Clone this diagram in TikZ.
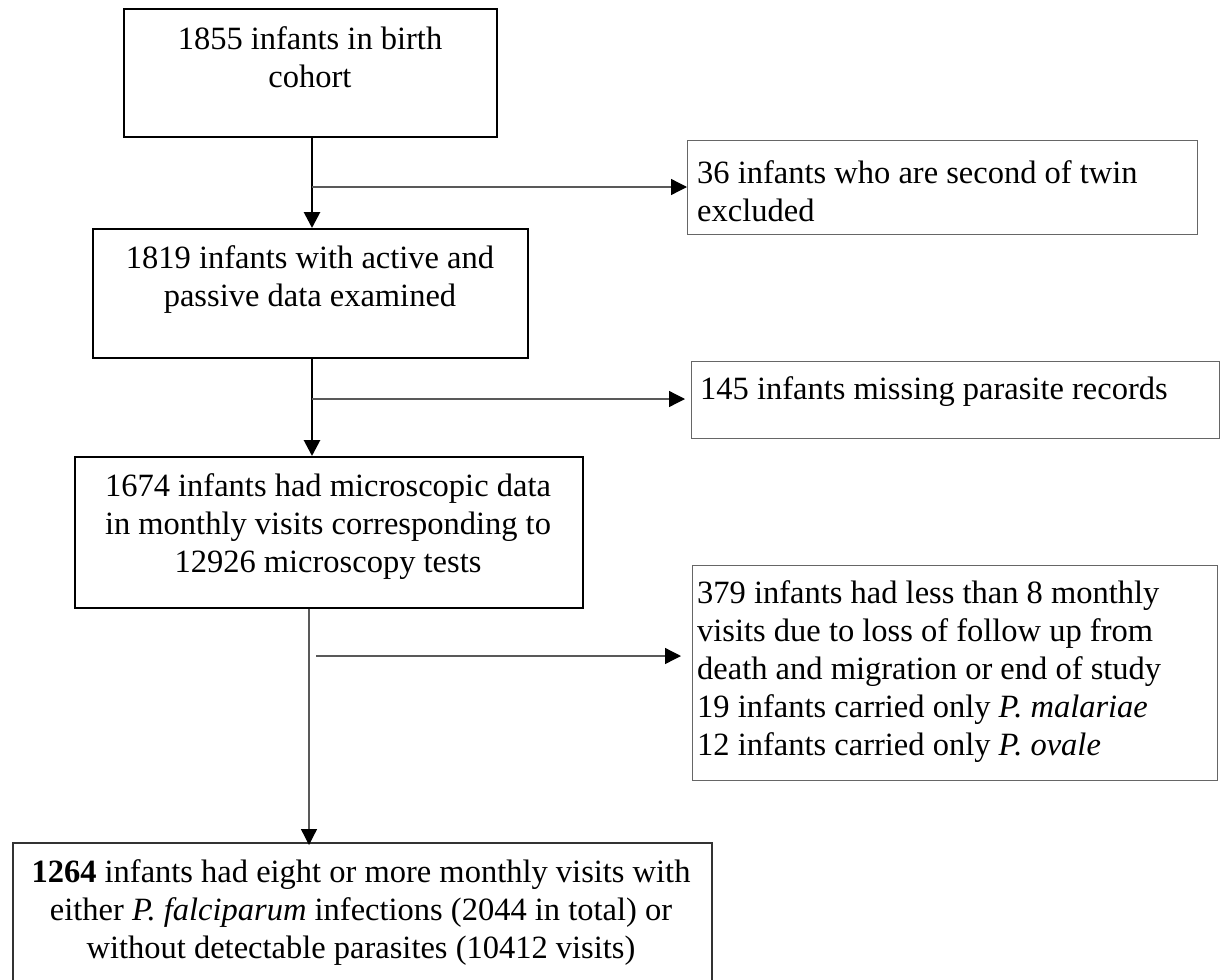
\documentclass[tikz,border=0pt]{standalone}
\usepackage{fontspec}
\setmainfont{Liberation Serif}
\usetikzlibrary{arrows.meta}
\begin{document}
\begin{tikzpicture}[x=1pt,y=-1pt,
  boxk/.style={draw=black, line width=1.5pt, inner sep=0pt, anchor=north west},
  boxg/.style={draw=black!60, line width=1.3pt, inner sep=0pt, anchor=north west},
  txt/.style={font=\fontsize{32.5}{38}\selectfont, inner sep=0pt, align=center},
  txtl/.style={font=\fontsize{32.5}{38}\selectfont, inner sep=0pt, align=left, anchor=west},
  heavyarrow/.style={line width=2.8pt, -{Triangle[length=16pt,width=16pt]}},
  lightarrow/.style={draw=black!65, line width=1.3pt, -{Triangle[length=16pt,width=16pt,color=black]}},
]
\clip (0,0) rectangle (1221,980);
\useasboundingbox (0,0) rectangle (1221,980);

% main boxes
\node[boxk, minimum width=373, minimum height=128] (b1) at (123,8) {};
\node[boxk, minimum width=435, minimum height=129] (b2) at (92,228) {};
\node[boxk, minimum width=508, minimum height=151] (b3) at (74,456) {};
\node[boxk, draw=black!80, minimum width=699, minimum height=160] (b4) at (12,842) {};

% side boxes
\node[boxg, minimum width=510, minimum height=94] (r1) at (687,140) {};
\node[boxg, minimum width=528, minimum height=77] (r2) at (691,361) {};
\node[boxg, minimum width=525, minimum height=215] (r3) at (692,565) {};

% texts
\node[txt] (t1) at (310,57) {1855 infants in birth\\cohort};
\node[txt] (t2) at (310,280) {1819 infants with active and\\passive data examined};
\node[txt] (t3) at (328,527) {1674 infants had microscopic data\\in monthly visits corresponding to\\12926 microscopy tests};
\node[txt] (t4) at (361,913) {\textbf{1264} infants had eight or more monthly visits with\\either \textit{P. falciparum} infections (2044 in total) or\\without detectable parasites (10412 visits)};

\node[txtl] (s1) at (697,191) {36 infants who are second of twin\\excluded};
\node[txtl] (s2) at (700,392) {145 infants missing parasite records};
\node[txtl] (s3) at (697,672) {379 infants had less than 8 monthly\\visits due to loss of follow up from\\death and migration or end of study\\19 infants carried only \textit{P. malariae}\\12 infants carried only \textit{P. ovale}};

% junctions
\coordinate (j1) at (312,187);
\coordinate (j2) at (312,399);
\coordinate (j3) at (316,656);
\coordinate (v1) at (312,0);
\coordinate (v3) at (309,0);

% connectors
\draw[heavyarrow] (b1.south -| v1) -- (b2.north -| v1);
\draw[heavyarrow] (b2.south -| v1) -- (b3.north -| v1);
\draw[lightarrow] (b3.south -| v3) -- ([yshift=-3pt]b4.north -| v3);

\draw[lightarrow] (j1) -- (r1.west |- j1);
\draw[lightarrow, shorten >=6pt] (j2) -- (r2.west |- j2);
\draw[lightarrow, shorten >=11pt] (j3) -- (r3.west |- j3);
\end{tikzpicture}
\end{document}
